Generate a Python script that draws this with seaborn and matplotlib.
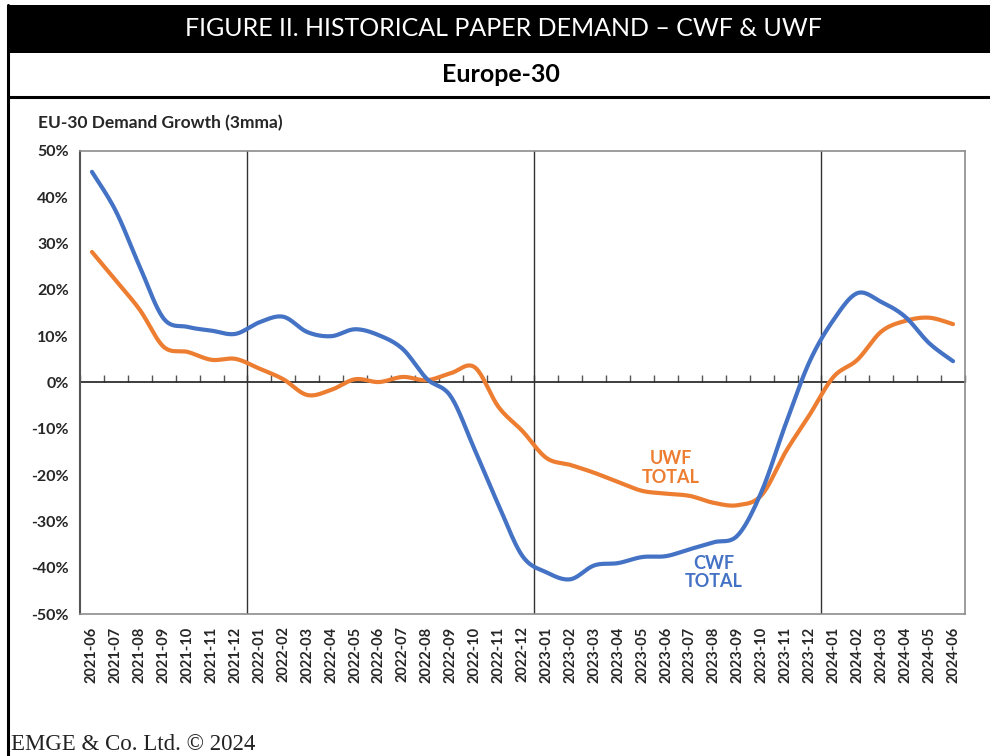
import numpy as np
import pandas as pd
import seaborn as sns
import matplotlib
matplotlib.use("Agg")
import matplotlib.pyplot as plt
from matplotlib.patches import Rectangle
from matplotlib.lines import Line2D

# ---------------- data ----------------
months = ["2021-06", "2021-07", "2021-08", "2021-09", "2021-10", "2021-11", "2021-12",
          "2022-01", "2022-02", "2022-03", "2022-04", "2022-05", "2022-06", "2022-07",
          "2022-08", "2022-09", "2022-10", "2022-11", "2022-12",
          "2023-01", "2023-02", "2023-03", "2023-04", "2023-05", "2023-06", "2023-07",
          "2023-08", "2023-09", "2023-10", "2023-11", "2023-12",
          "2024-01", "2024-02", "2024-03", "2024-04", "2024-05", "2024-06"]
cwf_total = [45.5, 37.0, 25.0, 13.8, 12.0, 11.2, 10.5, 13.0, 14.2, 10.9, 10.0, 11.5, 10.2,
             7.2, 0.8, -3.0, -14.5, -26.5, -37.5, -41.0, -42.5, -39.5, -39.0, -37.7, -37.5,
             -36.0, -34.5, -33.0, -23.5, -9.0, 4.5, 13.5, 19.3, 17.4, 14.2, 8.5, 4.6]
uwf_total = [28.2, 22.0, 15.7, 7.7, 6.6, 4.9, 5.1, 3.0, 0.7, -2.7, -1.6, 0.7, 0.1, 1.2,
             0.5, 2.0, 3.3, -5.3, -10.5, -16.3, -17.8, -19.5, -21.5, -23.4, -24.0, -24.5,
             -26.0, -26.5, -24.3, -15.0, -7.0, 1.2, 4.9, 11.0, 13.3, 14.0, 12.6]
y_ticks = [-50, -40, -30, -20, -10, 0, 10, 20, 30, 40, 50]

BLUE = "#4472C4"
ORANGE = "#ED7D31"


def smooth(values, n=20):
    """Excel-like smoothed line (Catmull-Rom Bezier) through category points."""
    x = np.arange(len(values), dtype=float)
    y = np.asarray(values, dtype=float)
    P = np.column_stack([x, y])
    P = np.vstack([P[0], P, P[-1]])
    out = []
    t = np.linspace(0, 1, n, endpoint=False)[:, None]
    for i in range(1, len(P) - 2):
        p0, p1, p2, p3 = P[i - 1], P[i], P[i + 1], P[i + 2]
        b1 = p1 + (p2 - p0) / 6.0
        b2 = p2 - (p3 - p1) / 6.0
        seg = ((1 - t) ** 3) * p1 + 3 * ((1 - t) ** 2) * t * b1 + 3 * (1 - t) * t ** 2 * b2 + t ** 3 * p2
        out.append(seg)
    out.append(P[-2][None, :])
    out = np.vstack(out)
    return out[:, 0], out[:, 1]


frames = []
for name, vals in [("CWF", cwf_total), ("UWF", uwf_total)]:
    sx, sy = smooth(vals)
    frames.append(pd.DataFrame({"x": sx, "y": sy, "series": name}))
df = pd.DataFrame(pd.concat(frames, ignore_index=True))

sns.set_theme(style="white")
plt.rcParams["font.family"] = ["Lato", "DejaVu Sans"]

W, H = 990, 756
fig = plt.figure(figsize=(W / 100, H / 100), dpi=100)
fig.patch.set_facecolor("white")


def fx(px):
    return px / W


def fy(py):
    return 1 - py / H


ax = fig.add_axes([fx(80), fy(614), fx(965) - fx(80), fy(151) - fy(614)])

sns.lineplot(data=df, x="x", y="y", hue="series", palette={"CWF": BLUE, "UWF": ORANGE},
             sort=False, estimator=None, linewidth=3.0, legend=False, ax=ax,
             hue_order=["UWF", "CWF"])
for line in ax.lines:
    line.set_solid_capstyle("round")

n = len(months)
ax.set_xlim(-0.5, n - 0.5)
ax.set_ylim(-50, 50)
ax.set_xticks(range(n))
ax.set_xticklabels(months, rotation=90, fontsize=10.5, fontweight="bold")
ax.tick_params(axis="x", length=0, pad=9)
ax.set_yticks(y_ticks)
ax.set_yticklabels([f"{v}%" for v in y_ticks], fontsize=11.5, fontweight="bold")
ax.tick_params(axis="y", length=4, width=1, color="#555555", direction="out", pad=4)
ax.set_xlabel("")
ax.set_ylabel("")
for side, sp in ax.spines.items():
    sp.set_color("#8c8c8c")
    sp.set_linewidth(1.2)
ax.spines["left"].set_color("#555555")
ax.spines["left"].set_linewidth(1.5)

# zero category axis with tick marks between categories
sec = ax.secondary_xaxis(0.5)
sec.set_xticks(np.arange(-0.5, n, 1.0))
sec.set_xticklabels([])
sec.tick_params(axis="x", direction="out", length=5, width=1, color="#555555")
sec.spines["bottom"].set_color("#777777")
sec.spines["bottom"].set_linewidth(1.2)

# year separators
for i, m in enumerate(months):
    if m.endswith("-01"):
        ax.axvline(i - 0.5, color="#333333", linewidth=1.0, zorder=1)

# series labels
ax.text(24.2, -18.5, "UWF\nTOTAL", color=ORANGE, fontsize=13, fontweight="bold",
        ha="center", va="center", linespacing=1.1)
ax.text(26.0, -41.0, "CWF\nTOTAL", color=BLUE, fontsize=13, fontweight="bold",
        ha="center", va="center", linespacing=1.1)

# ---------------- page furniture ----------------
fig.add_artist(Rectangle((fx(8), fy(53)), fx(990) - fx(8), fy(5) - fy(53),
                         transform=fig.transFigure, facecolor="black", edgecolor="none"))
fig.text(fx(503), fy(29), "FIGURE II. HISTORICAL PAPER DEMAND \u2013 CWF & UWF", color="white",
         fontsize=18, ha="center", va="center")
fig.text(fx(501), fy(75), "Europe-30", color="black", fontsize=18, fontweight="bold",
         ha="center", va="center")
fig.add_artist(Line2D([fx(8), fx(990)], [fy(97), fy(97)], transform=fig.transFigure,
                      color="black", linewidth=2.2))
fig.add_artist(Line2D([fx(8), fx(8)], [fy(5), fy(756)], transform=fig.transFigure,
                      color="black", linewidth=2.2))
fig.text(fx(38), fy(123), "EU-30 Demand Growth (3mma)", fontsize=12.5, fontweight="bold",
         ha="left", va="center")
fig.text(fx(11), fy(744), "EMGE & Co. Ltd. \u00a9 2024", fontsize=16.5,
         family=["Liberation Serif", "DejaVu Serif"], ha="left", va="center", color="#222222")

fig.savefig("out.png", dpi=100)
